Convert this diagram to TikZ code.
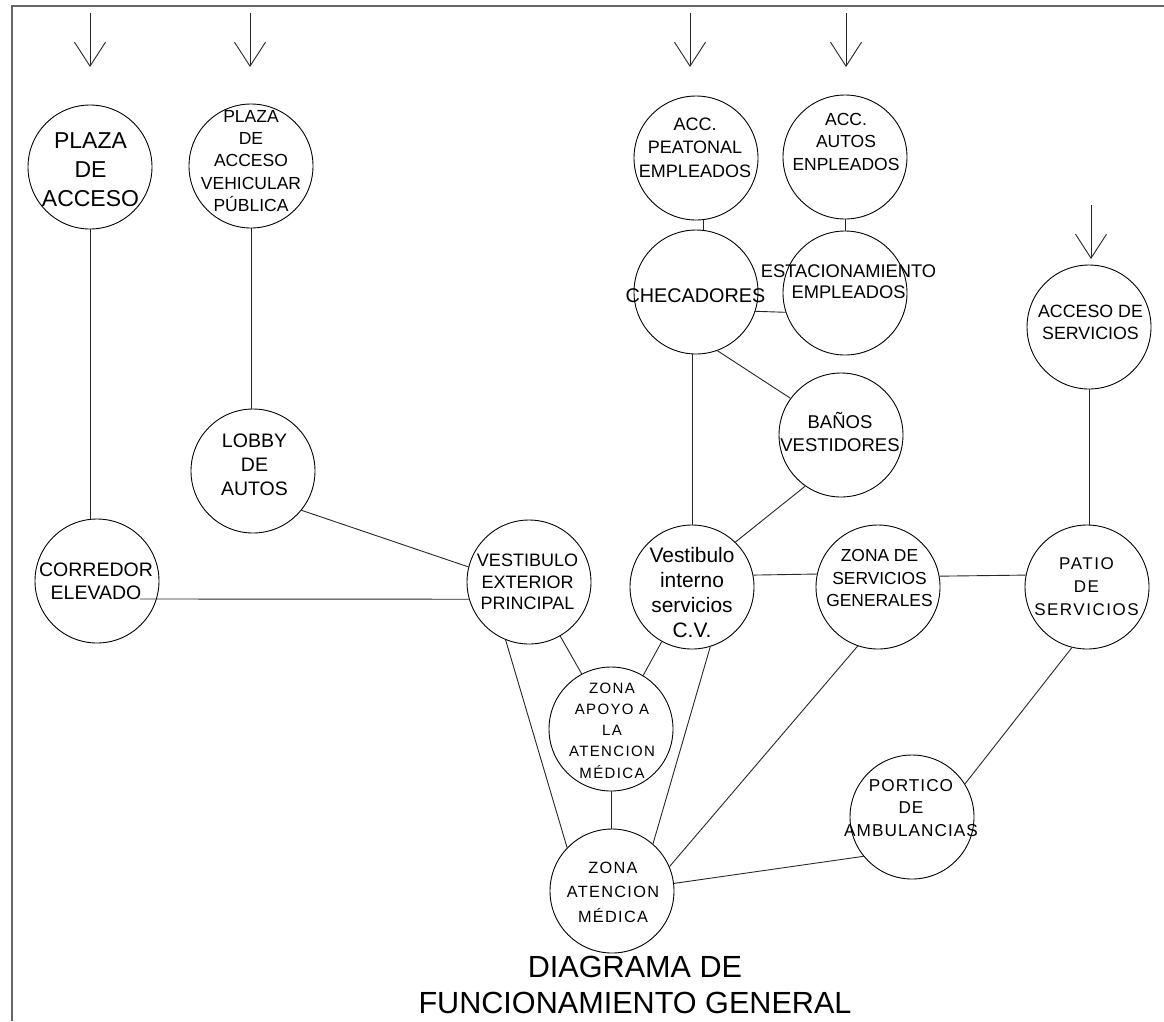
\documentclass[tikz,border=0pt]{standalone}
\usepackage{fontspec}
\setmainfont{Liberation Sans}
\usetikzlibrary{arrows.meta}
% font size / baseline skip shorthand
\newcommand{\fsz}[2]{\fontsize{#1pt}{#2pt}\selectfont}
\newcommand{\spc}[1]{\addfontfeature{LetterSpace=#1}}

\begin{document}
\begin{tikzpicture}[x=1pt,y=-1pt,
  room/.style={draw, circle, line width=0.9pt, minimum size=124pt, inner sep=0pt},
  txt/.style={align=center, inner sep=0pt},
  link/.style={line width=0.9pt, black!85},
  entry/.style={line width=0.9pt, black!85, -{Straight Barb[length=24pt,width=31pt]}},
  frame/.style={line width=2pt, black!60}]

\useasboundingbox (0,0) rectangle (1164,1021);
\draw[frame] (1164,6) -- (12,6) -- (12,1021);

% ---- areas ----
\node[room] (pa) at (90,167) {};
\node[room] (pv) at (251,166) {};
\node[room] (ap) at (696,158) {};
\node[room] (aa) at (845,157) {};
\node[room] (ch) at (696,292) {};
\node[room] (es) at (845,293) {};
\node[room] (bv) at (841,435) {};
\node[room] (as) at (1089,327) {};
\node[room] (lb) at (253,471) {};
\node[room] (ce) at (97,581) {};
\node[room] (ve) at (529,582) {};
\node[room] (vi) at (692,587) {};
\node[room] (zg) at (878,587) {};
\node[room] (ps) at (1087,587) {};
\node[room] (za) at (611,729) {};
\node[room] (pt) at (912,817) {};
\node[room] (zm) at (612,891) {};

% ---- area names ----
\node[txt, font=\fsz{23}{29}] (paT) at (90.5,169.5) {PLAZA\\DE\\ACCESO};
\node[txt, font=\fsz{17.5}{22.3}] (pvT) at (251,161) {PLAZA\\DE\\ACCESO\\VEHICULAR\\PÚBLICA};
\node[txt, font=\fsz{18}{23.5}] (apT) at (695,147.5) {ACC.\\PEATONAL\\EMPLEADOS};
\node[txt, font=\fsz{17.5}{22.5}] (aaT) at (846,141.5) {ACC.\\AUTOS\\ENPLEADOS};
\node[txt, font=\fsz{19.8}{24}] (chT) at (695.5,295.5) {CHECADORES};
\node[txt, font=\fsz{18.3}{21}] (esT) at (848.5,281.5) {ESTACIONAMIENTO\\EMPLEADOS};
\node[txt, font=\fsz{18.5}{23}] (bvT) at (840,432.3) {BAÑOS\\VESTIDORES};
\node[txt, font=\fsz{17.8}{22}] (asT) at (1090.5,322.5) {ACCESO DE\\SERVICIOS};
\node[txt, font=\fsz{19.5}{24}] (lbT) at (254.5,464.5) {LOBBY\\DE\\AUTOS};
\node[txt, font=\fsz{19.5}{23}] (ceT) at (96,581.5) {CORREDOR\\ELEVADO};
\node[txt, font=\fsz{18}{21.5}] (veT) at (527.5,582) {VESTIBULO\\EXTERIOR\\PRINCIPAL};
\node[txt, font=\fsz{20.9}{25.3}] (viT) at (692,592.5) {Vestibulo\\interno\\servicios\\C.V.};
\node[txt, font=\fsz{17.4}{22.5}] (zgT) at (879.5,578) {ZONA DE\\SERVICIOS\\GENERALES};
\node[txt, font=\fsz{17}{23}\spc{9}] (psT) at (1086.5,586.5) {PATIO\\DE\\SERVICIOS};
\node[txt, font=\fsz{15}{21.2}\spc{9}] (zaT) at (612,730.5) {ZONA\\APOYO A\\LA\\ATENCION\\MÉDICA};
\node[txt, font=\fsz{17.2}{22.5}\spc{6}] (ptT) at (911,808) {PORTICO\\DE\\AMBULANCIAS};
\node[txt, font=\fsz{16.3}{24.5}\spc{8}] (zmT) at (613,892) {ZONA\\ATENCION\\MÉDICA};

\node[txt, font=\fsz{30.6}{36}] (title) at (635,985) {DIAGRAMA DE\\FUNCIONAMIENTO GENERAL};

% ---- entrances ----
\coordinate (e1a) at (90,13);   \coordinate (e1b) at (90,67);
\coordinate (e2a) at (250,13);  \coordinate (e2b) at (250,67);
\coordinate (e3a) at (690,13);  \coordinate (e3b) at (690,67);
\coordinate (e4a) at (846,13);  \coordinate (e4b) at (846,67);
\coordinate (e5a) at (1091,205); \coordinate (e5b) at (1091,259);
\foreach \k in {1,...,5} \draw[entry] (e\k a) -- (e\k b);

% ---- relations ----
\coordinate (ceIn) at (140,599);
\draw[link] (pa.south) -- (pa.south |- ce.north);
\draw[link] (pv.south) -- (pv.south |- lb.north);
\draw[link] (ap.-83.5) -- (ap.-83.5 |- ch.north);
\draw[link] (aa.south) -- (aa.south |- es.north);
\draw[link] (ch.-18.8) -- (es.-162);
\draw[link] (ch.-70) -- (bv.144);
\draw[link] (ch.south -| vi.north) -- (vi.north);
\draw[link] (bv.-125.5) -- (vi.46);
\draw[link] (as.south) -- (as.south |- ps.north);
\draw[link] (lb.-39.2) -- (ve.166.4);
\draw[link] (ceIn) -- (ve.-164.7);
\draw[link] (ve.-60.5) -- (za.118.6);
\draw[link] (vi.-119) -- (za.59.8);
\draw[link] (za.south) -- (za.south |- zm.north);
\draw[link] (ve.-112.5) -- (zm.136.3);
\draw[link] (vi.-73.6) -- (zm.49.5);
\draw[link] (zg.-109.3) -- (zm.23.3);
\draw[link] (zm.7.2) -- (pt.-141.3);
\draw[link] (ps.-104) -- (pt.32.2);
\draw[link] (vi.11.2) -- (zg.168.8);
\draw[link] (zg.10.2) -- (ps.169.8);
\end{tikzpicture}
\end{document}
